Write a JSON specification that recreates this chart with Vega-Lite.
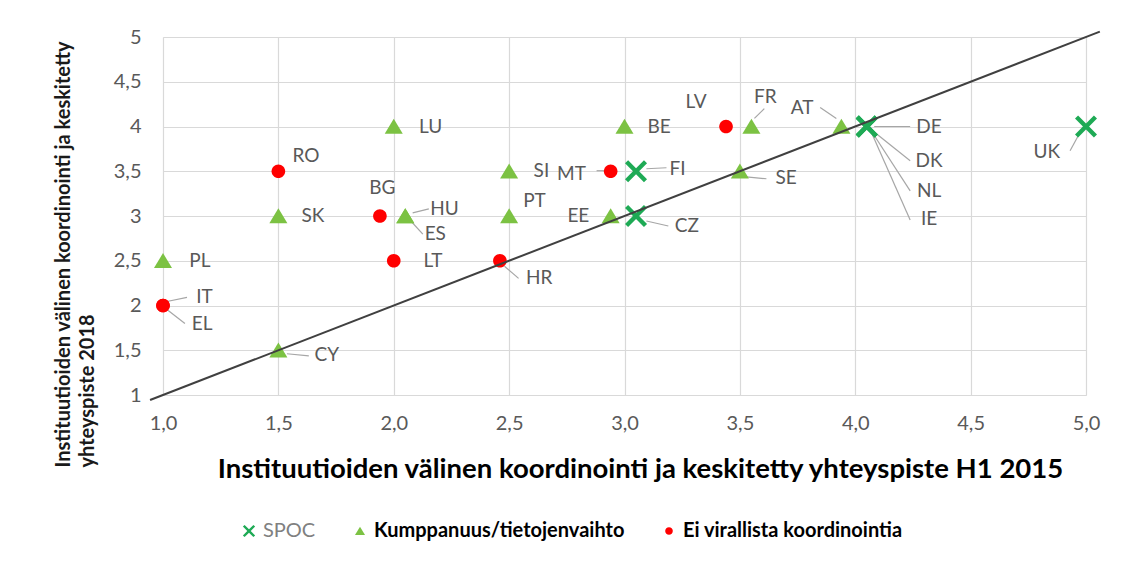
{
  "$schema": "https://vega.github.io/schema/vega-lite/v6.json",
  "width": 923,
  "height": 358,
  "autosize": {"type": "none"},
  "padding": {"left": 163, "top": 37, "right": 36, "bottom": 166},
  "background": "white",
  "config": {
    "view": {"stroke": null},
    "font": "Lato",
    "axis": {"gridColor": "#d9d9d9", "gridWidth": 1.2, "domainColor": "#d9d9d9", "ticks": false, "labelColor": "#595959", "labelFont": "Lato", "labelFontSize": 20, "labelFlush": false}
  },
  "datasets": {
    "points": [
      {"code": "PL", "x": 1.0, "y": 2.5, "cat": "Kumppanuus/tietojenvaihto"},
      {"code": "SK", "x": 1.5, "y": 3.0, "cat": "Kumppanuus/tietojenvaihto"},
      {"code": "LU", "x": 2.0, "y": 4.0, "cat": "Kumppanuus/tietojenvaihto"},
      {"code": "HU", "x": 2.05, "y": 3.0, "cat": "Kumppanuus/tietojenvaihto"},
      {"code": "ES", "x": 2.05, "y": 3.0, "cat": "Kumppanuus/tietojenvaihto"},
      {"code": "CY", "x": 1.5, "y": 1.5, "cat": "Kumppanuus/tietojenvaihto"},
      {"code": "SI", "x": 2.5, "y": 3.5, "cat": "Kumppanuus/tietojenvaihto"},
      {"code": "PT", "x": 2.5, "y": 3.0, "cat": "Kumppanuus/tietojenvaihto"},
      {"code": "EE", "x": 2.94, "y": 3.0, "cat": "Kumppanuus/tietojenvaihto"},
      {"code": "BE", "x": 3.0, "y": 4.0, "cat": "Kumppanuus/tietojenvaihto"},
      {"code": "FR", "x": 3.55, "y": 4.0, "cat": "Kumppanuus/tietojenvaihto"},
      {"code": "SE", "x": 3.5, "y": 3.5, "cat": "Kumppanuus/tietojenvaihto"},
      {"code": "AT", "x": 3.94, "y": 4.0, "cat": "Kumppanuus/tietojenvaihto"},
      {"code": "RO", "x": 1.5, "y": 3.5, "cat": "Ei virallista koordinointia"},
      {"code": "BG", "x": 1.94, "y": 3.0, "cat": "Ei virallista koordinointia"},
      {"code": "LT", "x": 2.0, "y": 2.5, "cat": "Ei virallista koordinointia"},
      {"code": "IT", "x": 1.0, "y": 2.0, "cat": "Ei virallista koordinointia"},
      {"code": "EL", "x": 1.0, "y": 2.0, "cat": "Ei virallista koordinointia"},
      {"code": "HR", "x": 2.46, "y": 2.5, "cat": "Ei virallista koordinointia"},
      {"code": "MT", "x": 2.94, "y": 3.5, "cat": "Ei virallista koordinointia"},
      {"code": "LV", "x": 3.44, "y": 4.0, "cat": "Ei virallista koordinointia"},
      {"code": "FI", "x": 3.05, "y": 3.5, "cat": "SPOC"},
      {"code": "CZ", "x": 3.05, "y": 3.0, "cat": "SPOC"},
      {"code": "DE", "x": 4.05, "y": 4.0, "cat": "SPOC"},
      {"code": "DK", "x": 4.05, "y": 4.0, "cat": "SPOC"},
      {"code": "NL", "x": 4.05, "y": 4.0, "cat": "SPOC"},
      {"code": "IE", "x": 4.05, "y": 4.0, "cat": "SPOC"},
      {"code": "UK", "x": 5.0, "y": 4.0, "cat": "SPOC"}
    ],
    "labels": [
      {"code": "PL", "lx": 1.16, "ly": 2.5},
      {"code": "SK", "lx": 1.65, "ly": 3.0},
      {"code": "LU", "lx": 2.16, "ly": 4.0},
      {"code": "RO", "lx": 1.62, "ly": 3.67},
      {"code": "BG", "lx": 1.95, "ly": 3.31},
      {"code": "HU", "lx": 2.22, "ly": 3.08},
      {"code": "ES", "lx": 2.18, "ly": 2.8},
      {"code": "LT", "lx": 2.17, "ly": 2.5},
      {"code": "IT", "lx": 1.18, "ly": 2.09},
      {"code": "EL", "lx": 1.17, "ly": 1.79},
      {"code": "CY", "lx": 1.71, "ly": 1.45},
      {"code": "HR", "lx": 2.63, "ly": 2.31},
      {"code": "SI", "lx": 2.64, "ly": 3.5},
      {"code": "PT", "lx": 2.61, "ly": 3.17},
      {"code": "EE", "lx": 2.8, "ly": 3.0},
      {"code": "MT", "lx": 2.77, "ly": 3.47},
      {"code": "FI", "lx": 3.23, "ly": 3.53},
      {"code": "CZ", "lx": 3.27, "ly": 2.89},
      {"code": "BE", "lx": 3.15, "ly": 4.0},
      {"code": "LV", "lx": 3.31, "ly": 4.27},
      {"code": "FR", "lx": 3.61, "ly": 4.33},
      {"code": "SE", "lx": 3.7, "ly": 3.42},
      {"code": "AT", "lx": 3.77, "ly": 4.21},
      {"code": "DE", "lx": 4.32, "ly": 4.0},
      {"code": "DK", "lx": 4.32, "ly": 3.62},
      {"code": "NL", "lx": 4.32, "ly": 3.28},
      {"code": "IE", "lx": 4.32, "ly": 2.97},
      {"code": "UK", "lx": 4.83, "ly": 3.71}
    ],
    "leaders": [
      {"code": "IT", "x": 1.017, "y": 2.045, "x2": 1.104, "y2": 2.09},
      {"code": "EL", "x": 1.017, "y": 1.955, "x2": 1.095, "y2": 1.8},
      {"code": "HU", "x": 2.082, "y": 3.034, "x2": 2.152, "y2": 3.079},
      {"code": "ES", "x": 2.074, "y": 2.944, "x2": 2.126, "y2": 2.798},
      {"code": "CY", "x": 1.537, "y": 1.461, "x2": 1.632, "y2": 1.438},
      {"code": "HR", "x": 2.48, "y": 2.438, "x2": 2.541, "y2": 2.303},
      {"code": "MT", "x": 2.879, "y": 3.506, "x2": 2.918, "y2": 3.506},
      {"code": "FI", "x": 3.095, "y": 3.528, "x2": 3.182, "y2": 3.539},
      {"code": "CZ", "x": 3.095, "y": 2.944, "x2": 3.19, "y2": 2.888},
      {"code": "FR", "x": 3.563, "y": 4.09, "x2": 3.606, "y2": 4.2},
      {"code": "SE", "x": 3.528, "y": 3.438, "x2": 3.615, "y2": 3.416},
      {"code": "AT", "x": 3.848, "y": 4.213, "x2": 3.918, "y2": 4.09},
      {"code": "DE", "x": 4.082, "y": 4.0, "x2": 4.238, "y2": 4.0},
      {"code": "DK", "x": 4.074, "y": 3.955, "x2": 4.238, "y2": 3.618},
      {"code": "NL", "x": 4.074, "y": 3.933, "x2": 4.238, "y2": 3.281},
      {"code": "IE", "x": 4.074, "y": 3.91, "x2": 4.238, "y2": 2.955},
      {"code": "UK", "x": 4.974, "y": 3.933, "x2": 4.931, "y2": 3.73}
    ],
    "diag": [
      {"x": 0.944, "y": 0.944},
      {"x": 5.06, "y": 5.06}
    ]
  },
  "layer": [
    {
      "data": {"name": "leaders"},
      "mark": {"type": "rule", "color": "#a6a6a6", "strokeWidth": 1.2},
      "encoding": {
        "x": {"field": "x", "type": "quantitative"},
        "y": {"field": "y", "type": "quantitative"},
        "x2": {"field": "x2"},
        "y2": {"field": "y2"}
      }
    },
    {
      "data": {"name": "points"},
      "mark": {"type": "point", "filled": true, "opacity": 1, "size": 484},
      "encoding": {
        "x": {
          "field": "x", "type": "quantitative",
          "scale": {"domain": [1, 5], "nice": false, "zero": false},
          "axis": {
            "values": [1, 1.5, 2, 2.5, 3, 3.5, 4, 4.5, 5],
            "labelExpr": "replace(format(datum.value, '.1f'), '.', ',')",
            "labelPadding": 18,
            "title": "Instituutioiden  välinen koordinointi ja keskitetty  yhteyspiste  H1 2015",
            "titleFont": "Lato", "titleFontSize": 27.5, "titleFontWeight": "bold", "titleColor": "#000000",
            "titleX": 477, "titleY": 82, "titleAlign": "center", "titleBaseline": "alphabetic"
          }
        },
        "y": {
          "field": "y", "type": "quantitative",
          "scale": {"domain": [1, 5], "nice": false, "zero": false},
          "axis": {
            "values": [1, 1.5, 2, 2.5, 3, 3.5, 4, 4.5, 5],
            "labelExpr": "replace(toString(datum.value), '.', ',')",
            "labelPadding": 22,
            "title": ["Instituutioiden välinen koordinointi ja keskitetty", "yhteyspiste 2018"],
            "titleFont": "Lato", "titleFontSize": 20, "titleFontWeight": "bold", "titleColor": "#1a1a1a",
            "titleAngle": -90, "titleAlign": "left", "titleBaseline": "top", "titleLineHeight": 24,
            "titleX": -110, "titleY": 430
          }
        },
        "shape": {
          "field": "cat", "type": "nominal",
          "scale": {"domain": ["SPOC", "Kumppanuus/tietojenvaihto", "Ei virallista koordinointia"], "range": ["M-1,-0.72L-0.72,-1L0,-0.28L0.72,-1L1,-0.72L0.28,0L1,0.72L0.72,1L0,0.28L-0.72,1L-1,0.72L-0.28,0Z", "M0,-0.7L0.82,0.66L-0.82,0.66Z", "M0.62,0A0.62,0.62 0 1,1 -0.62,0A0.62,0.62 0 1,1 0.62,0Z"]},
          "legend": {
            "title": null, "orient": "none", "direction": "horizontal",
            "legendX": 76, "legendY": 484, "padding": 0,
            "labelFont": "Lato", "labelFontSize": 20, "labelLimit": 0, "symbolSize": 150,
            "columnPadding": 34, "labelOffset": 4,
            "labelColor": {"expr": "datum.label == 'SPOC' ? '#808080' : '#000000'"},
            "labelFontWeight": {"expr": "datum.label == 'SPOC' ? 'normal' : 'bold'"}
          }
        },
        "color": {
          "field": "cat", "type": "nominal",
          "scale": {"domain": ["SPOC", "Kumppanuus/tietojenvaihto", "Ei virallista koordinointia"], "range": ["#1eaa55", "#7cc243", "#ff0000"]},
          "legend": {
            "title": null, "orient": "none", "direction": "horizontal",
            "legendX": 76, "legendY": 484, "padding": 0,
            "labelFont": "Lato", "labelFontSize": 20, "labelLimit": 0, "symbolSize": 150,
            "columnPadding": 34, "labelOffset": 4,
            "labelColor": {"expr": "datum.label == 'SPOC' ? '#808080' : '#000000'"},
            "labelFontWeight": {"expr": "datum.label == 'SPOC' ? 'normal' : 'bold'"}
          }
        }
      }
    },
    {
      "data": {"name": "diag"},
      "mark": {"type": "line", "color": "#404040", "strokeWidth": 2, "clip": false},
      "encoding": {
        "x": {"field": "x", "type": "quantitative"},
        "y": {"field": "y", "type": "quantitative"}
      }
    },
    {
      "data": {"name": "labels"},
      "mark": {"type": "text", "font": "Lato", "fontSize": 19, "color": "#595959", "align": "center", "baseline": "middle"},
      "encoding": {
        "x": {"field": "lx", "type": "quantitative"},
        "y": {"field": "ly", "type": "quantitative"},
        "text": {"field": "code"}
      }
    }
  ]
}
